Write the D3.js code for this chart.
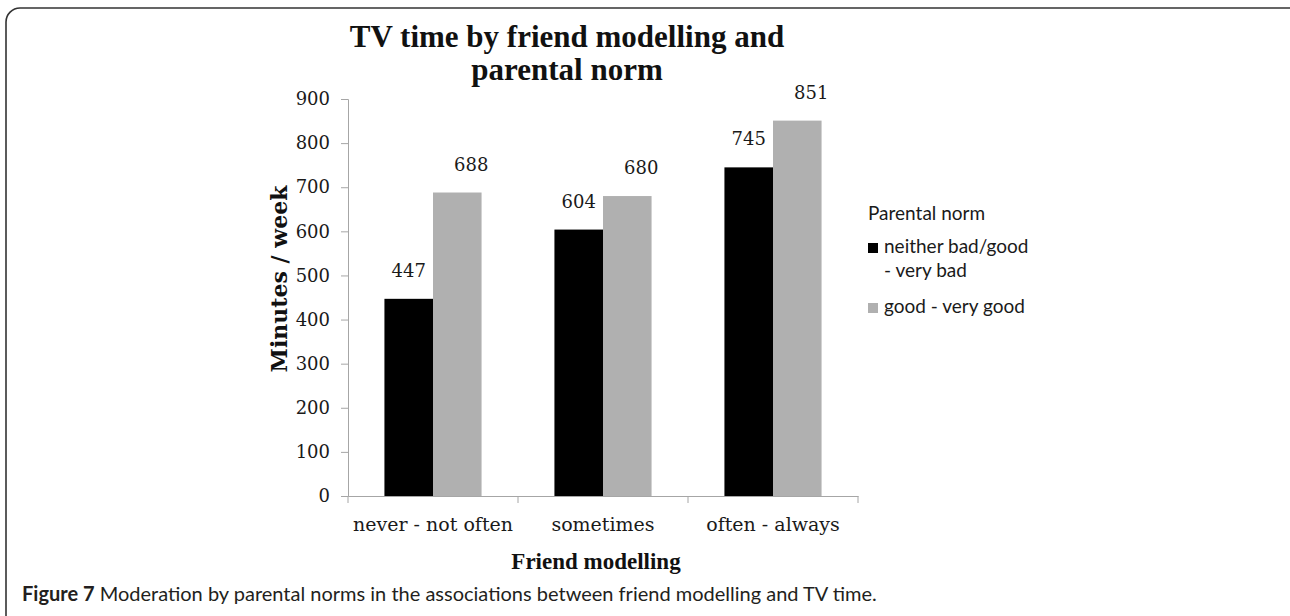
<!DOCTYPE html>
<html>
<head>
<meta charset="utf-8">
<script src="https://cdn.jsdelivr.net/npm/d3@7"></script>
<style>
  html, body { margin: 0; padding: 0; background: #fff; }
  svg { display: block; }
</style>
</head>
<body>
<svg id="chart" width="1290" height="616"></svg>
<script>
'use strict';

// data
var categories = ['never - not often', 'sometimes', 'often - always'];
var seriesNames = ['neither bad/good\n- very bad', 'good - very good'];
var neitherBad = [447, 604, 745];
var goodVeryGood = [688, 680, 851];
var yTicks = [0, 100, 200, 300, 400, 500, 600, 700, 800, 900];

var titleLines = ['TV time by friend modelling and', 'parental norm'];
var yTitle = 'Minutes / week';
var xTitle = 'Friend modelling';
var legendTitle = 'Parental norm';

var colors = ['#000000', '#b0b0b0'];
var serif = '"DejaVu Serif", Georgia, serif';
var titleSerif = '"Liberation Serif", "Times New Roman", serif';
var sans = 'Lato, "Open Sans", sans-serif';

var svg = d3.select('#chart');

// rounded frame around the figure
svg.append('rect')
    .attr('x', 6).attr('y', 8)
    .attr('width', 1300).attr('height', 640)
    .attr('rx', 14).attr('ry', 14)
    .attr('fill', 'none')
    .attr('stroke', '#333')
    .attr('stroke-width', 1.6);

var margin = {left: 348, right: 432, top: 99, bottom: 120};
var width = 1290 - margin.left - margin.right,   // 510
    height = 616 - margin.top - margin.bottom;   // 397

var g = svg.append('g')
    .attr('transform', 'translate(' + margin.left + ',' + margin.top + ')');

var x0 = d3.scaleBand()
    .domain(categories)
    .range([0, width])
    .padding(0);

var x1 = d3.scaleBand()
    .domain(d3.range(seriesNames.length))
    .range([0, x0.bandwidth()])
    .paddingInner(0)
    .paddingOuter(0.75);

var y = d3.scaleLinear()
    .domain([0, 900])
    .range([height, 0]);

var rows = categories.map(function (c, i) {
    return {cat: c, values: [neitherBad[i], goodVeryGood[i]]};
});

// y axis
var yAxis = g.append('g')
    .call(d3.axisLeft(y).tickValues(yTicks).tickSize(7).tickPadding(11));
yAxis.select('.domain').attr('stroke', '#a6a6a6');
yAxis.selectAll('.tick line').attr('stroke', '#a6a6a6');
yAxis.selectAll('.tick text')
    .attr('font-family', serif)
    .attr('font-size', 18)
    .attr('fill', '#1a1a1a');

// bars
var groups = g.selectAll('.group')
    .data(rows)
    .enter().append('g')
    .attr('class', 'group')
    .attr('transform', function (d) { return 'translate(' + x0(d.cat) + ',0)'; });

groups.selectAll('rect')
    .data(function (d) { return d.values; })
    .enter().append('rect')
    .attr('x', function (d, i) { return x1(i); })
    .attr('y', function (d) { return y(d); })
    .attr('width', x1.bandwidth())
    .attr('height', function (d) { return height - y(d); })
    .attr('fill', function (d, i) { return colors[i]; });

// value labels (grey ones sit a little to the right, as in the original)
var labelNudge = [0, 14];
groups.selectAll('.val')
    .data(function (d) { return d.values; })
    .enter().append('text')
    .attr('class', 'val')
    .attr('x', function (d, i) { return x1(i) + x1.bandwidth() / 2 + labelNudge[i]; })
    .attr('y', function (d) { return y(d) - 22; })
    .attr('text-anchor', 'middle')
    .attr('font-family', serif)
    .attr('font-size', 18)
    .attr('fill', '#1a1a1a')
    .text(function (d) { return d; });

// x axis: Excel style, ticks on category boundaries
var xAxis = g.append('g')
    .attr('transform', 'translate(0,' + height + ')')
    .call(d3.axisBottom(x0).tickSize(0).tickPadding(22));
xAxis.select('.domain').attr('stroke', '#a6a6a6');
xAxis.selectAll('.tick text')
    .attr('font-family', serif)
    .attr('font-size', 19)
    .attr('fill', '#1a1a1a');
xAxis.selectAll('.bound')
    .data(categories.map(function (c) { return x0(c); }).concat([width]))
    .enter().append('line')
    .attr('class', 'bound')
    .attr('x1', function (d) { return d; })
    .attr('x2', function (d) { return d; })
    .attr('y1', 0).attr('y2', 7)
    .attr('stroke', '#a6a6a6');

// axis titles
svg.append('text')
    .attr('transform', 'translate(287,279) rotate(-90)')
    .attr('text-anchor', 'middle')
    .attr('font-family', serif)
    .attr('font-weight', 'bold')
    .attr('font-size', 22)
    .attr('fill', '#111')
    .text(yTitle);

svg.append('text')
    .attr('x', 596).attr('y', 569)
    .attr('text-anchor', 'middle')
    .attr('font-family', titleSerif)
    .attr('font-weight', 'bold')
    .attr('font-size', 23)
    .attr('fill', '#111')
    .text(xTitle);

// chart title
svg.append('text')
    .attr('text-anchor', 'middle')
    .attr('font-family', titleSerif)
    .attr('font-weight', 'bold')
    .attr('font-size', 31)
    .attr('fill', '#111')
    .selectAll('tspan')
    .data(titleLines)
    .enter().append('tspan')
    .attr('x', 567)
    .attr('y', function (d, i) { return 47 + i * 33; })
    .text(function (d) { return d; });

// legend
var legend = svg.append('g').attr('transform', 'translate(868,0)');
legend.append('text')
    .attr('x', 0).attr('y', 220)
    .attr('font-family', sans)
    .attr('font-size', 19)
    .attr('fill', '#1a1a1a')
    .text(legendTitle);

var legendRows = [253, 313];
seriesNames.forEach(function (name, i) {
    legend.append('rect')
        .attr('x', 0).attr('y', legendRows[i] - 10)
        .attr('width', 10).attr('height', 10)
        .attr('fill', colors[i]);
    legend.append('text')
        .attr('font-family', sans)
        .attr('font-size', 19)
        .attr('fill', '#1a1a1a')
        .selectAll('tspan')
        .data(name.split('\n'))
        .enter().append('tspan')
        .attr('x', 16)
        .attr('y', function (d, j) { return legendRows[i] + j * 24; })
        .text(function (d) { return d; });
});

// caption
var caption = svg.append('text')
    .attr('x', 22).attr('y', 601)
    .attr('font-family', sans)
    .attr('font-size', 20)
    .attr('fill', '#231f20');
caption.append('tspan').attr('font-weight', 'bold').text('Figure 7');
caption.append('tspan')
    .text(' Moderation by parental norms in the associations between friend modelling and TV time.');
</script>
</body>
</html>
